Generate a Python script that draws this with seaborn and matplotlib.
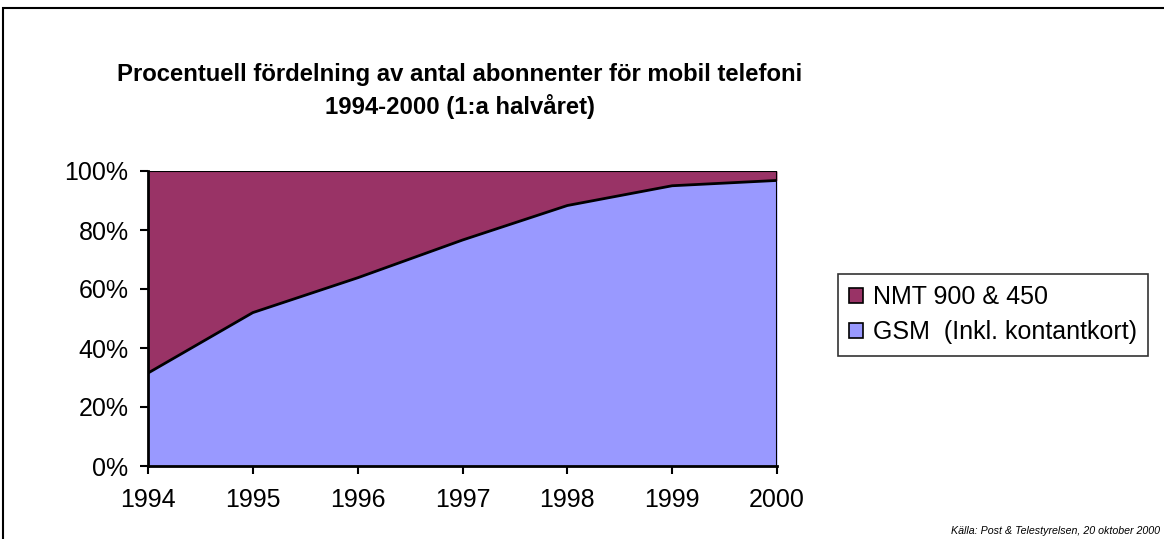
import matplotlib
matplotlib.use("Agg")
import matplotlib.pyplot as plt
import seaborn as sns
import pandas as pd
from matplotlib.patches import Rectangle, Patch

years = [1994, 1995, 1996, 1997, 1998, 1999, 2000]
gsm = [31.5, 52.0, 63.8, 76.6, 88.3, 95.0, 96.8]
nmt = [100 - g for g in gsm]
yticks = [0, 20, 40, 60, 80, 100]
labels = ["NMT 900 & 450", "GSM  (Inkl. kontantkort)"]
title = "Procentuell fördelning av antal abonnenter för mobil telefoni\n1994-2000 (1:a halvåret)"
source = "Källa: Post & Telestyrelsen, 20 oktober 2000"

sns.set_theme(style="white")
plt.rcParams['font.family'] = ['Liberation Sans', 'DejaVu Sans']
plt.rcParams['text.color'] = 'black'
plt.rcParams['xtick.color'] = 'black'
plt.rcParams['ytick.color'] = 'black'

c_nmt = "#993366"
c_gsm = "#9999FF"

fig = plt.figure(figsize=(11.64, 5.39), dpi=100)
ax = fig.add_axes([148/1164, 1-466/539, (777-148)/1164, (466-171)/539])

ax.stackplot(years, gsm, nmt, colors=[c_gsm, c_nmt], linewidth=0)
df = pd.DataFrame({"year": years, "gsm": gsm})
sns.lineplot(data=df, x="year", y="gsm", ax=ax, color="black", linewidth=2)
ax.plot([years[-1], years[-1]], [0, 100], color="black", linewidth=1.5)
ax.plot([years[0], years[-1]], [100, 100], color="black", linewidth=0.8)

ax.set_xlim(years[0], years[-1])
ax.set_ylim(0, 100)
ax.set_xticks(years)
ax.set_xticklabels([str(y) for y in years], fontsize=18)
ax.set_yticks(yticks)
ax.set_yticklabels([f"{v}%" for v in yticks], fontsize=18)
ax.set_xlabel("")
ax.set_ylabel("")
for s in ["top", "right"]:
    ax.spines[s].set_visible(False)
for s in ["left", "bottom"]:
    ax.spines[s].set_color("black")
    ax.spines[s].set_linewidth(2)
ax.tick_params(axis="both", which="both", direction="out", length=6, width=1.5,
               color="black", left=True, bottom=True, labelcolor="black")
ax.tick_params(axis="x", pad=10)
ax.tick_params(axis="y", pad=8)

fig.text(460/1164, 1-91/539, title, ha="center", va="center", fontsize=17.2,
         fontweight="bold", linespacing=1.38)

handles = [Patch(facecolor=c_nmt, edgecolor="black", linewidth=1.2),
           Patch(facecolor=c_gsm, edgecolor="black", linewidth=1.2)]
leg = fig.legend(handles, labels, loc="upper left",
                 bbox_to_anchor=(838/1164, 1-274/539), fontsize=18,
                 frameon=True, fancybox=False, handlelength=0.55, handleheight=0.55,
                 handletextpad=0.4, borderpad=0.45, labelspacing=0.45,
                 borderaxespad=0)
leg.get_frame().set_edgecolor("black")
leg.get_frame().set_linewidth(1.2)

fig.text(1160/1164, 1-531/539, source, ha="right", va="center", fontsize=7.7,
         style="italic")

fig.patches.append(Rectangle((3/1164, -0.05), 1.2, 1-8/539+0.05,
                             transform=fig.transFigure, fill=False,
                             edgecolor="black", linewidth=1.5))

fig.savefig("out.png", dpi=100)
